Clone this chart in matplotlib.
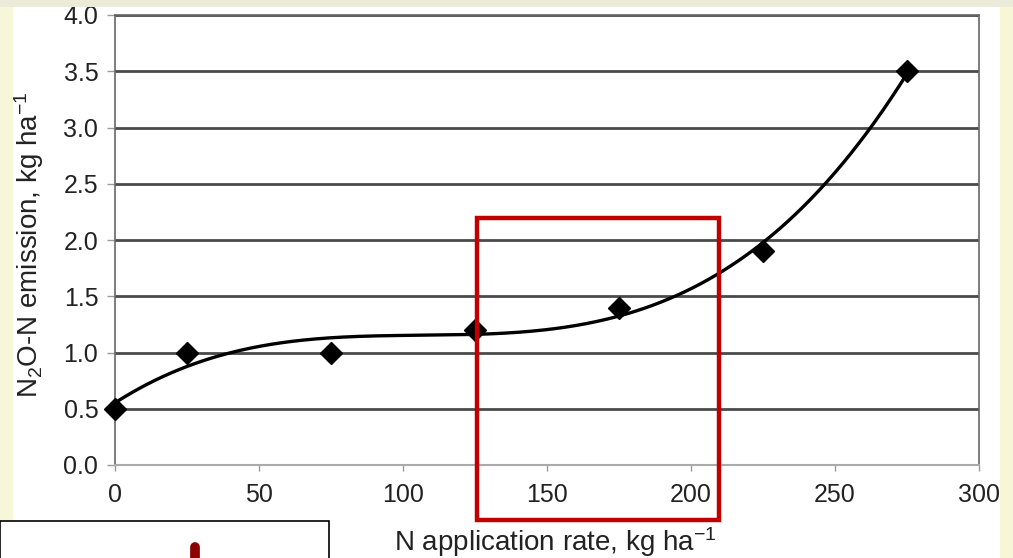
import numpy as np
import matplotlib

matplotlib.use("Agg")
import matplotlib.pyplot as plt
from matplotlib.patches import Rectangle

plt.rcParams["font.family"] = ["Liberation Sans", "DejaVu Sans"]
plt.rcParams["mathtext.default"] = "regular"

# data
n_rate = [0, 25, 75, 125, 175, 225, 275]
n2o_emission = [0.5, 1.0, 1.0, 1.2, 1.4, 1.9, 3.5]
x_ticks = [0, 50, 100, 150, 200, 250, 300]
y_ticks = [0.0, 0.5, 1.0, 1.5, 2.0, 2.5, 3.0, 3.5, 4.0]

W, H = 1013, 558
fig = plt.figure(figsize=(W / 100, H / 100), dpi=100)
fig.patch.set_facecolor("white")

# slide background strips
fig.patches.append(Rectangle((0, 0), 13 / W, 1, transform=fig.transFigure,
                             facecolor="#F7F6D6", edgecolor="none", zorder=0))
fig.patches.append(Rectangle((1000 / W, 0), 13 / W, 1, transform=fig.transFigure,
                             facecolor="#F7F6D6", edgecolor="none", zorder=0))
fig.patches.append(Rectangle((0, 1 - 7 / H), 1, 7 / H, transform=fig.transFigure,
                             facecolor="#ECEAD8", edgecolor="none", zorder=0))

ax = fig.add_axes([115 / W, (H - 465) / H, 864 / W, 450 / H])
ax.set_xlim(0, 300)
ax.set_ylim(0, 4.0)
ax.set_xticks(x_ticks)
ax.set_yticks(y_ticks)
ax.set_yticklabels([f"{v:.1f}" for v in y_ticks])
ax.tick_params(axis="both", labelsize=18, colors="#222222", width=1, color="#999999")
ax.tick_params(axis="x", length=4, pad=9)
ax.tick_params(axis="y", length=6, pad=6)
ax.grid(axis="y", color="#4a4a4a", linewidth=2.0, zorder=1)
for side in ["left", "right", "top"]:
    ax.spines[side].set_color("#666666")
    ax.spines[side].set_linewidth(1.2)
ax.spines["bottom"].set_color("#aaaaaa")
ax.spines["bottom"].set_linewidth(1.5)
ax.spines["bottom"].set_linestyle((0, (1, 1)))

# polynomial trendline (order 3), as in the spreadsheet chart
coef = np.polyfit(n_rate, n2o_emission, 3)
xs = np.linspace(min(n_rate), max(n_rate), 300)
ax.plot(xs, np.polyval(coef, xs), color="black", linewidth=2.4, zorder=3)
ax.plot(n_rate, n2o_emission, linestyle="none", marker="D", markersize=11.5,
        color="black", zorder=4, clip_on=False)

ax.set_xlabel("N application rate, kg ha$^{-1}$", fontsize=20, color="#222222")
ax.set_ylabel("N$_2$O-N emission, kg ha$^{-1}$", fontsize=20, color="#222222")
ax.xaxis.set_label_coords(0.51, -0.133)
ax.yaxis.set_label_coords(-0.08, 0.49)

# highlight box
ax.add_patch(Rectangle((125.7, -0.49), 84.0, 2.686, fill=False, edgecolor="#C00000",
                       linewidth=3.2, clip_on=False, zorder=5))

# partial box at the bottom left of the slide
fig.patches.append(Rectangle((0, -0.05), 329 / W, (H - 521) / H + 0.05, transform=fig.transFigure,
                             facecolor="white", edgecolor="black", linewidth=1.2, zorder=6))
fig.lines.append(plt.Line2D([195 / W, 195 / W], [(H - 547) / H, -0.02], transform=fig.transFigure,
                            color="#8B0000", linewidth=7, solid_capstyle="round", zorder=7))

fig.savefig("out.png", dpi=100)
